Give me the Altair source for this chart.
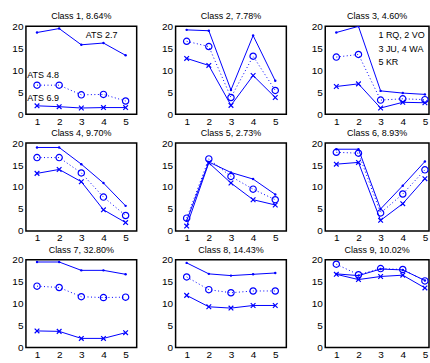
import altair as alt
import pandas as pd

titles = ["Class 1, 8.64%", "Class 2, 7.78%", "Class 3, 4.60%",
          "Class 4, 9.70%", "Class 5, 2.73%", "Class 6, 8.93%",
          "Class 7, 32.80%", "Class 8, 14.43%", "Class 9, 10.02%"]
x_vals = [1, 2, 3, 4, 5]
x_ticks = [1, 2, 3, 4, 5]
y_ticks = [0, 5, 10, 15, 20]

# series per class: ATS 2.7 (solid, dots), ATS 4.8 (dotted, circles), ATS 6.9 (solid, x)
ats27 = [
    [18.6, 19.5, 15.8, 16.2, 13.4],
    [19.2, 19.0, 5.5, 17.9, 7.6],
    [18.6, 20.0, 5.3, 4.8, 4.5],
    [19.0, 19.0, 15.2, 10.9, 5.7],
    [2.3, 15.7, 13.3, 11.8, 8.3],
    [18.6, 18.6, 5.0, 10.3, 15.8],
    [19.5, 19.5, 17.6, 17.6, 16.7],
    [19.3, 16.8, 16.4, 16.7, 17.0],
    [16.8, 16.4, 17.9, 17.7, 15.3],
]
ats48 = [
    [6.6, 6.6, 4.4, 4.5, 3.0],
    [16.6, 15.4, 3.8, 13.2, 5.4],
    [13.0, 13.6, 3.2, 3.5, 3.3],
    [16.7, 16.7, 13.2, 7.7, 3.5],
    [2.9, 16.4, 12.4, 9.5, 7.1],
    [17.9, 17.7, 4.1, 8.4, 13.9],
    [14.0, 13.7, 11.6, 11.4, 11.5],
    [16.1, 13.2, 12.5, 12.9, 12.9],
    [19.0, 16.6, 18.0, 17.8, 15.2],
]
ats69 = [
    [1.9, 1.7, 1.4, 1.5, 1.5],
    [12.7, 11.1, 2.0, 8.8, 3.8],
    [6.3, 6.9, 1.4, 2.7, 2.6],
    [13.1, 14.0, 11.2, 4.8, 1.9],
    [1.1, 15.5, 10.9, 7.1, 5.9],
    [15.2, 15.6, 2.4, 6.2, 11.9],
    [3.8, 3.7, 2.1, 2.1, 3.4],
    [11.9, 9.3, 9.0, 9.6, 9.6],
    [16.7, 15.5, 16.2, 16.5, 13.6],
]

ann_class = [1, 1, 1, 3, 3, 3]
ann_text = ["ATS 2.7", "ATS 4.8", "ATS 6.9", "1 RQ, 2 VO", "3 JU, 4 WA", "5 KR"]
ann_x = [3.2, 0.56, 0.56, 2.9, 2.9, 2.9]
ann_y = [18.1, 8.9, 3.6, 18.1, 14.9, 11.9]

BLUE = "#0000ff"
FONT = "Liberation Sans"
XMARK = "M -1 -1 L 1 1 M -1 1 L 1 -1"


def panel(i):
    col = i % 3
    width = 111 if col < 2 else 104
    xmax = 5.5 if col < 2 else 0.5 + width / 22.2
    xscale = alt.Scale(domain=[0.5, xmax], nice=False, zero=False)
    yscale = alt.Scale(domain=[0, 20], nice=False, zero=False)
    xaxis = alt.Axis(values=x_ticks, title=None, format="d", labelOverlap=False)
    yaxis = alt.Axis(values=y_ticks, title=None, labelOverlap=False)
    df = pd.DataFrame({"x": x_vals, "a": ats27[i], "b": ats48[i], "c": ats69[i]})
    base = alt.Chart(df)

    def xe():
        return alt.X("x:Q", scale=xscale, axis=xaxis)

    def ye(f):
        return alt.Y(f + ":Q", scale=yscale, axis=yaxis)

    la = base.mark_line(color=BLUE, strokeWidth=1, clip=True).encode(x=xe(), y=ye("a"))
    pa = base.mark_point(color=BLUE, filled=True, size=6, shape="circle", opacity=1, clip=True).encode(x=xe(), y=ye("a"))
    lb = base.mark_line(color=BLUE, strokeWidth=1, strokeDash=[1, 2.5], clip=True).encode(x=xe(), y=ye("b"))
    pb = base.mark_point(color=BLUE, filled=False, size=40, shape="circle", strokeWidth=1.2, opacity=1, clip=True).encode(x=xe(), y=ye("b"))
    lc = base.mark_line(color=BLUE, strokeWidth=1, clip=True).encode(x=xe(), y=ye("c"))
    pc = base.mark_point(color=BLUE, filled=False, size=22, shape=XMARK, strokeWidth=1.2, opacity=1, clip=True).encode(x=xe(), y=ye("c"))
    layers = [lb, pb, la, pa, lc, pc]

    idx = [k for k, c in enumerate(ann_class) if c == i + 1]
    if idx:
        adf = pd.DataFrame({"x": [ann_x[k] for k in idx], "a": [ann_y[k] for k in idx],
                            "t": [ann_text[k] for k in idx]})
        txt = alt.Chart(adf).mark_text(align="left", baseline="middle", fontSize=9,
                                       font=FONT, color="black").encode(
            x=xe(), y=ye("a"), text="t:N")
        layers.append(txt)

    return alt.layer(*layers).properties(
        width=width, height=88,
        title=alt.TitleParams(titles[i], fontSize=9, font=FONT, fontWeight="normal",
                              color="black", offset=0, anchor="middle"))


rows = []
for r in range(3):
    rows.append(alt.hconcat(*[panel(r * 3 + c) for c in range(3)], spacing=23))

chart = alt.vconcat(*rows, spacing=1).properties(
    padding={"left": 11, "top": 11, "right": 0, "bottom": 0}
).configure_view(
    stroke="black", strokeWidth=1.5
).configure_axis(
    labelFont=FONT, labelFontSize=10, labelColor="black", labelPadding=3,
    ticks=False, domain=False, grid=False
).configure_axisX(labelPadding=2)

chart.save("out.html", embed_options={"renderer": "svg", "actions": False})
